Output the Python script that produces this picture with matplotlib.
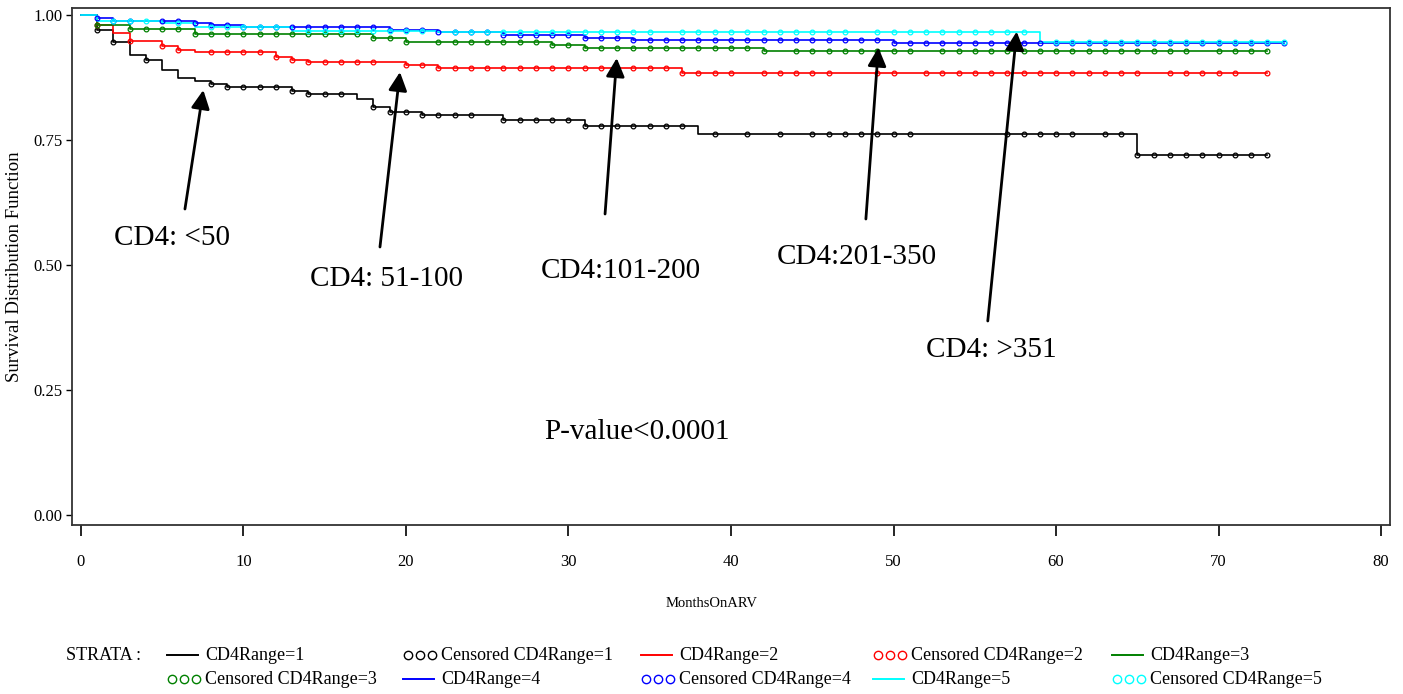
import numpy as np
import matplotlib
matplotlib.use("Agg")
import matplotlib.pyplot as plt
from matplotlib.lines import Line2D

plt.rcParams['font.family'] = ['Liberation Serif', 'DejaVu Serif']

#step curves (months, survival)
black_t = [0, 1, 2, 3, 4, 5, 6, 7, 8, 9, 13, 14, 17, 18, 19, 21, 26, 31, 38, 65]
black_s = [1.0, 0.971, 0.946, 0.920, 0.910, 0.890, 0.874, 0.868, 0.862, 0.857,
           0.849, 0.842, 0.833, 0.817, 0.807, 0.800, 0.791, 0.778, 0.763, 0.720]
black_end = 73

red_t = [0, 1, 2, 3, 5, 6, 7, 12, 13, 14, 20, 22, 37]
red_s = [1.0, 0.980, 0.965, 0.948, 0.938, 0.930, 0.926, 0.917, 0.910, 0.906, 0.901, 0.895, 0.884]
red_end = 73

green_t = [0, 1, 3, 7, 18, 20, 29, 31, 42]
green_s = [1.0, 0.980, 0.972, 0.963, 0.955, 0.947, 0.940, 0.935, 0.929]
green_end = 73

blue_t = [0, 1, 2, 7, 8, 10, 19, 22, 26, 31, 34, 50]
blue_s = [1.0, 0.994, 0.989, 0.984, 0.981, 0.977, 0.971, 0.966, 0.960, 0.955, 0.951, 0.944]
blue_end = 74

cyan_t = [0, 1, 5, 7, 13, 22, 59]
cyan_s = [1.0, 0.989, 0.984, 0.977, 0.969, 0.967, 0.946]
cyan_end = 74

#censored times
black_cens = [1, 2, 4, 8, 9, 10, 11, 12, 13, 14, 15, 16, 18, 19, 20, 21, 22, 23, 24, 26, 27, 28,
              29, 30, 31, 32, 33, 34, 35, 36, 37, 39, 41, 43, 45, 46, 47, 48, 49, 50, 51, 57, 58,
              59, 60, 61, 63, 64, 65, 66, 67, 68, 69, 70, 71, 72, 73]
red_cens = [1, 3, 5, 6, 8, 9, 10, 11, 12, 13, 14, 15, 16, 17, 18, 20, 21, 22, 23, 24, 25, 26, 27,
            28, 29, 30, 31, 32, 33, 34, 35, 36, 37, 38, 39, 40, 42, 43, 44, 45, 46, 49, 50, 52, 53,
            54, 55, 56, 57, 58, 59, 60, 61, 62, 63, 64, 65, 67, 68, 69, 70, 71, 73]
green_cens = [1, 3, 4, 5, 6, 7, 8, 9, 10, 11, 12, 13, 14, 15, 16, 17, 18, 19, 20, 22, 23, 24, 25,
              26, 27, 28, 29, 30, 31, 32, 33, 34, 35, 36, 37, 38, 39, 40, 41, 42, 44, 45, 46, 47,
              48, 49, 50, 51, 53, 54, 55, 56, 57, 58, 59, 60, 61, 62, 63, 64, 65, 66, 67, 68, 70,
              71, 72, 73]
blue_cens = [1, 2, 3, 5, 6, 7, 8, 9, 10, 11, 12, 13, 14, 15, 16, 17, 18, 19, 20, 21, 22, 23, 24,
             25, 26, 27, 28, 29, 30, 31, 32, 33, 34, 35, 36, 37, 38, 39, 40, 41, 42, 43, 44, 45,
             46, 47, 48, 49, 50, 51, 52, 53, 54, 55, 56, 57, 58, 59, 60, 61, 62, 63, 64, 65, 66,
             67, 68, 69, 70, 71, 72, 73, 74]
cyan_cens = [2, 3, 4, 6, 8, 9, 10, 11, 12, 14, 15, 16, 17, 18, 19, 20, 21, 23, 24, 25, 26, 27,
             28, 29, 30, 31, 32, 33, 34, 35, 37, 38, 39, 40, 41, 42, 43, 44, 45, 46, 47, 49, 50,
             51, 52, 53, 54, 55, 56, 57, 58, 60, 61, 62, 63, 64, 65, 66, 67, 68, 69, 70, 71, 72, 73, 74]

colors = ['black', '#ff0000', '#008000', '#0000ff', '#00ffff']
strata = [(black_t, black_s, black_end, black_cens),
          (red_t, red_s, red_end, red_cens),
          (green_t, green_s, green_end, green_cens),
          (blue_t, blue_s, blue_end, blue_cens),
          (cyan_t, cyan_s, cyan_end, cyan_cens)]

#labels and arrows: (text, text x, text y, arrow tail, arrow head)
notes = [("CD4: <50", 5.6, 0.554, (6.4, 0.612), (7.53, 0.850)),
         ("CD4: 51-100", 18.8, 0.472, (18.4, 0.536), (19.63, 0.886)),
         ("CD4:101-200", 33.2, 0.488, (32.25, 0.602), (32.97, 0.914)),
         ("CD4:201-350", 47.75, 0.516, (48.3, 0.592), (49.07, 0.935)),
         ("CD4: >351", 56.0, 0.329, (55.8, 0.388), (57.58, 0.967))]

W, H = 1403, 694
fig = plt.figure(figsize=(W / 100, H / 100), dpi=100)
ax = fig.add_axes([72 / W, 1 - 525 / H, (1390 - 72) / W, (525 - 8) / H])

for (t, s, end, cens), c in zip(strata, colors):
    tt = list(t) + [end]
    ss = list(s) + [s[-1]]
    ax.step(tt, ss, where='post', color=c, lw=1.2, zorder=3)
    idx = np.searchsorted(t, cens, side='right') - 1
    ax.plot(cens, np.array(s)[idx], 'o', ms=3.4, mfc='none', mec=c, mew=0.9, zorder=4)

for txt, tx, ty, tail, head in notes:
    ax.text(tx, ty, txt, ha='center', va='center', fontsize=21)
    ax.annotate("", xy=head, xytext=tail,
                arrowprops=dict(arrowstyle='-|>', color='black', lw=2, mutation_scale=28,
                                shrinkA=0, shrinkB=0), zorder=5)

ax.text(34.2, 0.165, "P-value<0.0001", ha='center', va='center', fontsize=21)

ax.set_xlim(-0.55, 80.55)
ax.set_ylim(-0.0201, 1.0141)
ax.set_xticks(np.arange(0, 81, 10))
ax.set_yticks([0, 0.25, 0.5, 0.75, 1.0])
ax.set_yticklabels(["0.00", "0.25", "0.50", "0.75", "1.00"])
ax.tick_params(axis='x', direction='out', length=8, width=1.2, pad=13, labelsize=12)
ax.tick_params(axis='y', direction='out', length=4, width=1.0, pad=3, labelsize=12)
for sp in ax.spines.values():
    sp.set_color('#333333')
    sp.set_linewidth(1.3)

ax.set_xlabel("MonthsOnARV", fontsize=10.5)
ax.xaxis.set_label_coords((712 - 72) / 1318, -(597 - 525) / 517)
ax.set_ylabel("Survival Distribution Function", fontsize=13.5, labelpad=7)

#legend drawn by hand in pixel positions
leg_labels = ["CD4Range=1", "Censored CD4Range=1", "CD4Range=2", "Censored CD4Range=2",
              "CD4Range=3", "Censored CD4Range=3", "CD4Range=4", "Censored CD4Range=4",
              "CD4Range=5", "Censored CD4Range=5"]
col_x = [167, 403, 641, 873, 1112]
row_y = [655, 679]
fig.text(66 / W, 1 - row_y[0] / H, "STRATA :", fontsize=13, va='center', ha='left')
for i, lab in enumerate(leg_labels):
    r, col = divmod(i, 5)
    x0 = col_x[col]
    y0 = 1 - row_y[r] / H
    c = colors[i // 2]
    if i % 2 == 0:
        fig.add_artist(Line2D([x0 / W, (x0 + 31) / W], [y0, y0], color=c, lw=1.4,
                              transform=fig.transFigure))
    else:
        fig.add_artist(Line2D([(x0 + 5) / W, (x0 + 17) / W, (x0 + 29) / W], [y0, y0, y0],
                              ls='none', marker='o', ms=6, mfc='none', mec=c, mew=1.0,
                              transform=fig.transFigure))
    fig.text((x0 + 38) / W, y0, lab, fontsize=13, va='center', ha='left')

fig.savefig("out.png", dpi=100, facecolor='white')
